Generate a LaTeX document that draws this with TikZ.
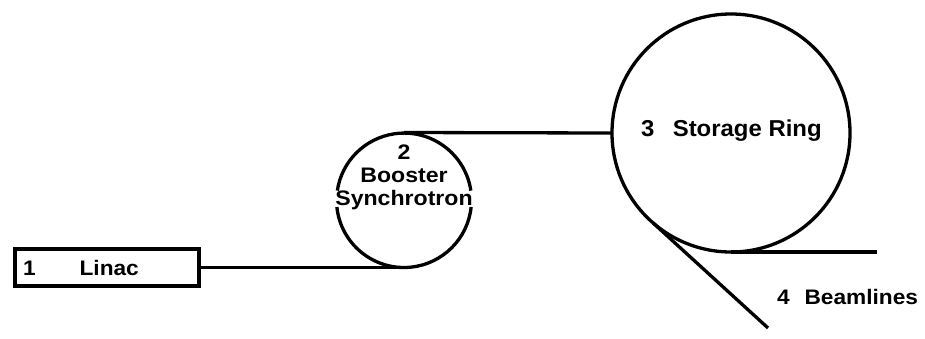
\documentclass[tikz,border=0pt]{standalone}
\usepackage{fontspec}
\setmainfont{Liberation Sans}
\newfontfamily\boosterfont[FakeStretch=1.1]{Liberation Sans}
\newfontfamily\ringfont[FakeStretch=1.04]{Liberation Sans}
\newfontfamily\smallfont[FakeStretch=1.08]{Liberation Sans}
\begin{document}
\begin{tikzpicture}[x=1pt,y=-1pt,
  line width=3.3pt,
  lbl/.style={inner sep=0pt, outer sep=0pt},
  ringnode/.style={circle, inner sep=0pt, outer sep=0pt},
  boxnode/.style={draw, minimum width=184pt, minimum height=37pt, inner sep=0pt, outer sep=0pt}]
\useasboundingbox (0,0) rectangle (925,338);
% Linac
\node[boxnode] (linac) at (107,267.5) {};
\node[lbl, anchor=west, font=\smallfont\fontsize{21}{23}\selectfont\bfseries] (linactxt) at (23,268) {1\hspace{44pt}Linac};
% Booster
\node[ringnode, minimum size=135pt] (booster) at (404,200) {};
\draw (booster.8.5) arc[start angle=8.5, end angle=171.5, radius=67.5pt];
\draw (booster.186) arc[start angle=186, end angle=354, radius=67.5pt];
\node[lbl, align=center, font=\boosterfont\fontsize{21}{23}\selectfont\bfseries] (boostertxt) at (404,177) {2\\Booster\\Synchrotron};
% Storage ring
\node[ringnode, draw, minimum size=238pt] (ring) at (731,133) {};
\node[lbl, anchor=west, font=\ringfont\fontsize{23}{25}\selectfont\bfseries] (ringtxt) at (641,131) {3\hspace{18.5pt}Storage Ring};
% Beamlines
\coordinate (bl1) at (877,252);
\coordinate (bl2) at (768,328);
\node[lbl, anchor=west, font=\smallfont\fontsize{21}{23}\selectfont\bfseries] (bltxt) at (777,297) {4\hspace{15pt}Beamlines};
% connectors
\draw (linac.east) -- (booster.south);
\draw (booster.north) -- (ring.west);
\draw (ring.south) -- (bl1);
\draw (ring.-131) -- (bl2);
\end{tikzpicture}
\end{document}
